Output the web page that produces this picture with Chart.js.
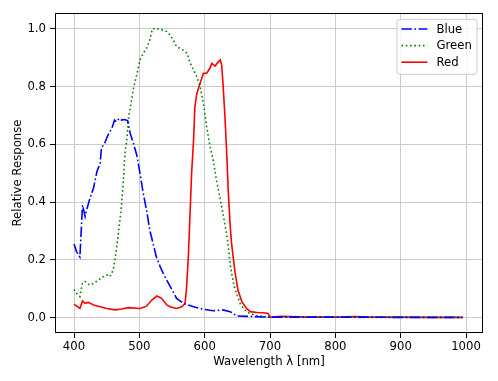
<!DOCTYPE html>
<html><head><meta charset="utf-8">
<script src="https://cdn.jsdelivr.net/npm/chart.js@4"></script>
<style>html,body{margin:0;padding:0;background:#fff}#wrap{width:498px;height:381px}</style>
</head><body><div id="wrap"><canvas id="c" width="498" height="381"></canvas></div>
<script>
const seriesLabels = ['Blue', 'Green', 'Red'];
const blueX = [400,404,409,413,417,419,424,430,435,440,442,447,452,458,462,465,469,473,477,482,486,491,496,501,506,511,516,521,526,532,539,544,548,557,567,583,598,613,628,639,649,675,700,750,800,850,900,950,995];
const blueY = [0.255,0.228,0.21,0.39,0.35,0.37,0.41,0.45,0.505,0.535,0.587,0.604,0.632,0.656,0.684,0.678,0.69,0.684,0.686,0.682,0.638,0.603,0.563,0.50,0.43,0.373,0.303,0.257,0.211,0.176,0.142,0.121,0.105,0.067,0.05,0.038,0.029,0.024,0.027,0.021,0.006,0.004,0.002,0.002,0.002,0.002,0.001,0.001,0.001];
const greenX = [400,404,409,413,417,421,424,430,437,445,450,455,460,464,468,472,475,478,481,484,486,491,496,501,506,511,516,520,527,532,537,542,547,552,557,562,567,573,578,583,588,593,598,603,608,613,618,628,635,640,645,650,655,662,670,680,690,700,750,800,850,900,950,995];
const greenY = [0.098,0.084,0.073,0.121,0.125,0.119,0.113,0.119,0.13,0.142,0.148,0.142,0.165,0.223,0.292,0.373,0.455,0.569,0.62,0.70,0.725,0.794,0.84,0.892,0.915,0.932,0.961,1.0,1.0,0.996,0.996,0.99,0.978,0.961,0.938,0.932,0.926,0.915,0.88,0.857,0.834,0.80,0.742,0.661,0.595,0.546,0.476,0.361,0.269,0.17,0.11,0.075,0.045,0.025,0.013,0.007,0.004,0.003,0.002,0.002,0.001,0.001,0.001,0.001];
const redX = [400,409,413,417,422,430,440,450,463,473,483,501,511,519,527,534,542,547,557,565,570,572,575,578,580,583,585,588,593,598,603,608,611,616,621,624,626,628,631,634,636,639,641,646,651,657,664,670,680,690,697,700,720,730,760,800,830,850,900,950,995];
const redY = [0.047,0.032,0.058,0.05,0.053,0.044,0.038,0.032,0.027,0.03,0.035,0.032,0.04,0.061,0.075,0.067,0.044,0.038,0.032,0.038,0.05,0.096,0.211,0.384,0.5,0.615,0.73,0.776,0.811,0.846,0.846,0.863,0.88,0.871,0.886,0.892,0.874,0.811,0.696,0.557,0.442,0.32,0.26,0.165,0.095,0.055,0.032,0.021,0.018,0.017,0.015,0.002,0.005,0.004,0.002,0.002,0.004,0.002,0.002,0.001,0.001];
const xTicks = [400,500,600,700,800,900,1000];
const yTicks = [0.0,0.2,0.4,0.6,0.8,1.0];

const FONT = 'DejaVu Sans';
const FS = 11.7;
const zip = (xs, ys) => xs.map((x, i) => ({x: x, y: ys[i]}));
const colors = ['#0000ff', '#008000', '#ff0000'];
const dashes = [[10.4, 2.6, 1.6, 2.6], [1.6, 2.7], []];

const framePlugin = {
  id: 'frame',
  afterDatasetsDraw(chart) {
    const {ctx, chartArea: a} = chart;
    ctx.save();
    ctx.strokeStyle = '#000';
    ctx.lineWidth = 1;
    ctx.setLineDash([]);
    ctx.strokeRect(Math.round(a.left) + 0.5, Math.round(a.top) + 0.5,
      Math.round(a.right) - Math.round(a.left) - 1, Math.round(a.bottom) - Math.round(a.top) - 1);
    ctx.restore();
  }
};

const legendPlugin = {
  id: 'mplLegend',
  afterDraw(chart) {
    const {ctx, chartArea: a} = chart;
    const right = a.right - 6, left = right - 80, top = a.top + 6.3, bottom = top + 55;
    ctx.save();
    ctx.beginPath();
    const r = 3;
    ctx.moveTo(left + r, top);
    ctx.lineTo(right - r, top); ctx.arcTo(right, top, right, top + r, r);
    ctx.lineTo(right, bottom - r); ctx.arcTo(right, bottom, right - r, bottom, r);
    ctx.lineTo(left + r, bottom); ctx.arcTo(left, bottom, left, bottom - r, r);
    ctx.lineTo(left, top + r); ctx.arcTo(left, top, left + r, top, r);
    ctx.closePath();
    ctx.fillStyle = 'rgba(255,255,255,0.8)';
    ctx.fill();
    ctx.strokeStyle = '#cccccc';
    ctx.lineWidth = 1;
    ctx.stroke();
    chart.data.datasets.forEach((ds, i) => {
      const y = top + 9.7 + i * 16.6;
      ctx.beginPath();
      ctx.setLineDash(ds.borderDash || []);
      ctx.strokeStyle = ds.borderColor;
      ctx.lineWidth = ds.borderWidth;
      ctx.lineCap = 'butt';
      ctx.moveTo(left + 4.4, y);
      ctx.lineTo(left + 30.4, y);
      ctx.stroke();
      ctx.setLineDash([]);
      ctx.fillStyle = '#000';
      ctx.font = FS + 'px "' + FONT + '"';
      ctx.textBaseline = 'middle';
      ctx.textAlign = 'left';
      ctx.fillText(ds.label, left + 39.4, y + 0.5);
    });
    ctx.restore();
  }
};

const datasets = [[blueX, blueY], [greenX, greenY], [redX, redY]].map((s, i) => ({
  label: seriesLabels[i],
  data: zip(s[0], s[1]),
  borderColor: colors[i],
  backgroundColor: colors[i],
  borderWidth: 1.6,
  borderDash: dashes[i],
  borderCapStyle: 'butt',
  pointRadius: 0,
  tension: 0,
  fill: false
}));

new Chart(document.getElementById('c'), {
  type: 'line',
  data: {datasets: datasets},
  plugins: [framePlugin, legendPlugin],
  options: {
    responsive: false,
    devicePixelRatio: 1,
    animation: false,
    layout: {padding: {top: 13, right: 15, left: 0, bottom: 0}},
    plugins: {legend: {display: false}, tooltip: {enabled: false}},
    scales: {
      x: {
        type: 'linear',
        min: 370.9, max: 1026,
        afterBuildTicks: s => { s.ticks = xTicks.map(v => ({value: v})); },
        afterFit: s => { s.height = 48; },
        border: {display: false},
        grid: {color: '#cbcbcb', lineWidth: 1, tickColor: '#000', tickLength: 5, drawTicks: true},
        ticks: {color: '#000', font: {family: FONT, size: FS}, padding: 2, maxRotation: 0, callback: v => String(v)},
        title: {display: true, text: 'Wavelength \u03bb [nm]', color: '#000', font: {family: FONT, size: FS}, padding: {top: 0, bottom: 12}}
      },
      y: {
        type: 'linear',
        min: -0.0529, max: 1.0544,
        afterBuildTicks: s => { s.ticks = yTicks.map(v => ({value: v})); },
        afterFit: s => { s.width = 55; },
        border: {display: false},
        grid: {color: '#cbcbcb', lineWidth: 1, tickColor: '#000', tickLength: 5, drawTicks: true},
        ticks: {color: '#000', font: {family: FONT, size: FS}, padding: 4, callback: v => Number(v).toFixed(1)},
        title: {display: true, text: 'Relative Response', color: '#000', font: {family: FONT, size: FS}, padding: {top: 11, bottom: 0}}
      }
    }
  }
});
</script>
</body></html>
